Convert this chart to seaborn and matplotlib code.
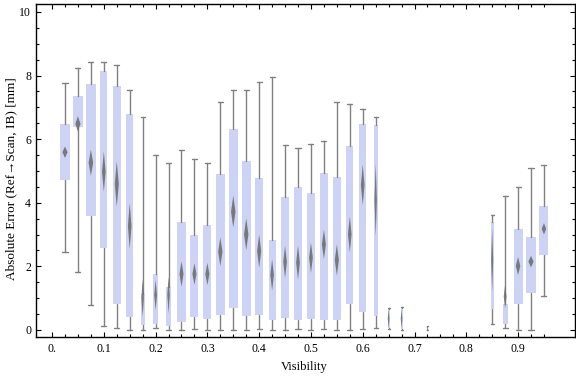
import numpy as np
import matplotlib
matplotlib.use("Agg")
import matplotlib.pyplot as plt
import seaborn as sns

# visibility bins (only the non-empty ones)
visibility = [0.025, 0.05, 0.075, 0.1, 0.125, 0.15, 0.175, 0.2, 0.225, 0.25,
              0.275, 0.3, 0.325, 0.35, 0.375, 0.4, 0.425, 0.45, 0.475, 0.5,
              0.525, 0.55, 0.575, 0.6, 0.625, 0.65, 0.675, 0.725,
              0.85, 0.875, 0.9, 0.925, 0.95]
whisker_lo = [2.44, 1.81, 0.77, 0.13, 0.06, 0.0, 0.0, 0.05, 0.0, 0.0,
              0.02, 0.0, 0.0, 0.0, 0.0, 0.03, 0.0, 0.0, 0.02, 0.0,
              0.02, 0.0, 0.0, 0.02, 0.07, 0.02, 0.0, 0.0,
              0.19, 0.05, 0.0, 0.0, 1.06]
q1 = [4.73, 6.38, 3.57, 2.59, 0.82, 0.42, 0.16, 0.19, 0.13, 0.26,
      0.42, 0.36, 0.47, 0.70, 0.45, 0.48, 0.32, 0.39, 0.32, 0.36,
      0.32, 0.32, 0.82, 0.55, 0.45, 0.05, 0.03, 0.03,
      0.67, 0.19, 0.83, 1.17, 2.37]
mean_err = [5.59, 6.48, 5.26, 4.98, 4.59, 3.27, 1.00, 1.10, 1.10, 1.76,
            1.76, 1.76, 2.46, 3.72, 3.01, 2.48, 1.73, 2.14, 2.12, 2.27,
            2.69, 2.20, 3.01, 4.56, 4.09, 0.35, 0.35, 0.06,
            2.20, 1.05, 2.01, 2.15, 3.18]
q3 = [6.48, 7.36, 7.74, 8.14, 7.67, 6.79, 1.13, 1.76, 1.35, 3.40,
      2.99, 3.30, 4.91, 6.32, 5.31, 4.78, 2.83, 4.18, 4.50, 4.30,
      4.94, 4.81, 5.79, 6.48, 6.45, 0.65, 0.68, 0.09,
      3.40, 0.82, 3.18, 2.92, 3.90]
whisker_hi = [7.76, 8.23, 8.44, 8.44, 8.32, 7.54, 6.69, 5.49, 5.26, 5.66,
              5.37, 5.26, 7.16, 7.54, 7.54, 7.79, 7.95, 5.81, 5.71, 5.84,
              5.93, 7.16, 7.10, 6.94, 6.71, 0.68, 0.71, 0.12,
              3.62, 4.22, 4.49, 5.08, 5.18]
mean_ci = [0.18, 0.24, 0.41, 0.63, 0.71, 0.72, 0.60, 0.47, 0.58, 0.40,
           0.34, 0.35, 0.45, 0.50, 0.50, 0.52, 0.49, 0.50, 0.53, 0.48,
           0.46, 0.49, 0.56, 0.64, 1.15, 0.30, 0.30, 0.02,
           1.00, 0.37, 0.28, 0.18, 0.18]
# relative bin size shown as box width
bin_weight = [0.021, 0.021, 0.018, 0.014, 0.0155, 0.0135, 0.008, 0.0095, 0.008, 0.0155,
              0.0155, 0.0155, 0.017, 0.0175, 0.0175, 0.016, 0.0135, 0.014, 0.014, 0.014,
              0.0155, 0.0155, 0.0135, 0.0135, 0.008, 0.004, 0.004, 0.003,
              0.006, 0.0095, 0.0175, 0.021, 0.0175]

x_major = [0.0, 0.1, 0.2, 0.3, 0.4, 0.5, 0.6, 0.7, 0.8, 0.9]
x_labels = ["0.", "0.1", "0.2", "0.3", "0.4", "0.5", "0.6", "0.7", "0.8", "0.9"]

sns.set_theme(style="ticks")
plt.rcParams['font.family'] = ['Liberation Serif', 'DejaVu Serif']

box_col = '#ccd3f5'
grey = '#808080'

fig = plt.figure(figsize=(5.76, 3.77), dpi=100)
ax = fig.add_axes([0.0625, 0.1053, 0.9358, 0.8833])

stats = []
for i in range(len(visibility)):
    stats.append(dict(whislo=whisker_lo[i], q1=q1[i], med=mean_err[i],
                      q3=q3[i], whishi=whisker_hi[i], fliers=[]))

caps = [min(0.0097, w) for w in bin_weight]
ax.bxp(stats, positions=visibility, widths=bin_weight, capwidths=caps,
       patch_artist=True, showfliers=False, manage_ticks=False,
       boxprops=dict(facecolor=box_col, edgecolor='none', linewidth=0),
       whiskerprops=dict(color=grey, linewidth=1.0),
       capprops=dict(color=grey, linewidth=1.0),
       medianprops=dict(linewidth=0))

# mean diamonds
for x, m, c, w in zip(visibility, mean_err, mean_ci, bin_weight):
    hw = 0.2 * w + 0.0008
    ax.fill([x - hw, x, x + hw, x], [m, m + c, m, m - c],
            color='#6f6f6f', lw=0, alpha=0.9, zorder=4)

ax.set_xlim(-0.031, 1.01)
ax.set_ylim(-0.23, 10.24)
ax.set_xticks(x_major)
ax.set_xticklabels(x_labels)
ax.set_xticks([v for v in np.arange(0.025, 0.96, 0.025)
               if abs(v * 10 - round(v * 10)) > 1e-6], minor=True)
ax.set_yticks(range(0, 11, 2))
ax.set_yticks(np.arange(0, 10.01, 0.5), minor=True)

ax.tick_params(which='both', direction='in', top=True, right=True,
               color='black', width=0.8, labelsize=8.5, labelcolor='black')
ax.tick_params(which='major', length=3.6)
ax.tick_params(which='minor', length=2.4)
ax.tick_params(axis='x', pad=4)
ax.tick_params(axis='y', pad=3.5)
for s in ax.spines.values():
    s.set_color('black')
    s.set_linewidth(1.0)

ax.set_xlabel('Visibility', fontsize=9, color='black')
ax.set_ylabel('Absolute Error (Ref\u2192Scan, IB) [mm]', fontsize=9.5, color='black')
ax.xaxis.set_label_coords(0.497, -0.072)
ax.yaxis.set_label_coords(-0.034, 0.475)

fig.savefig('out.png', dpi=100)
